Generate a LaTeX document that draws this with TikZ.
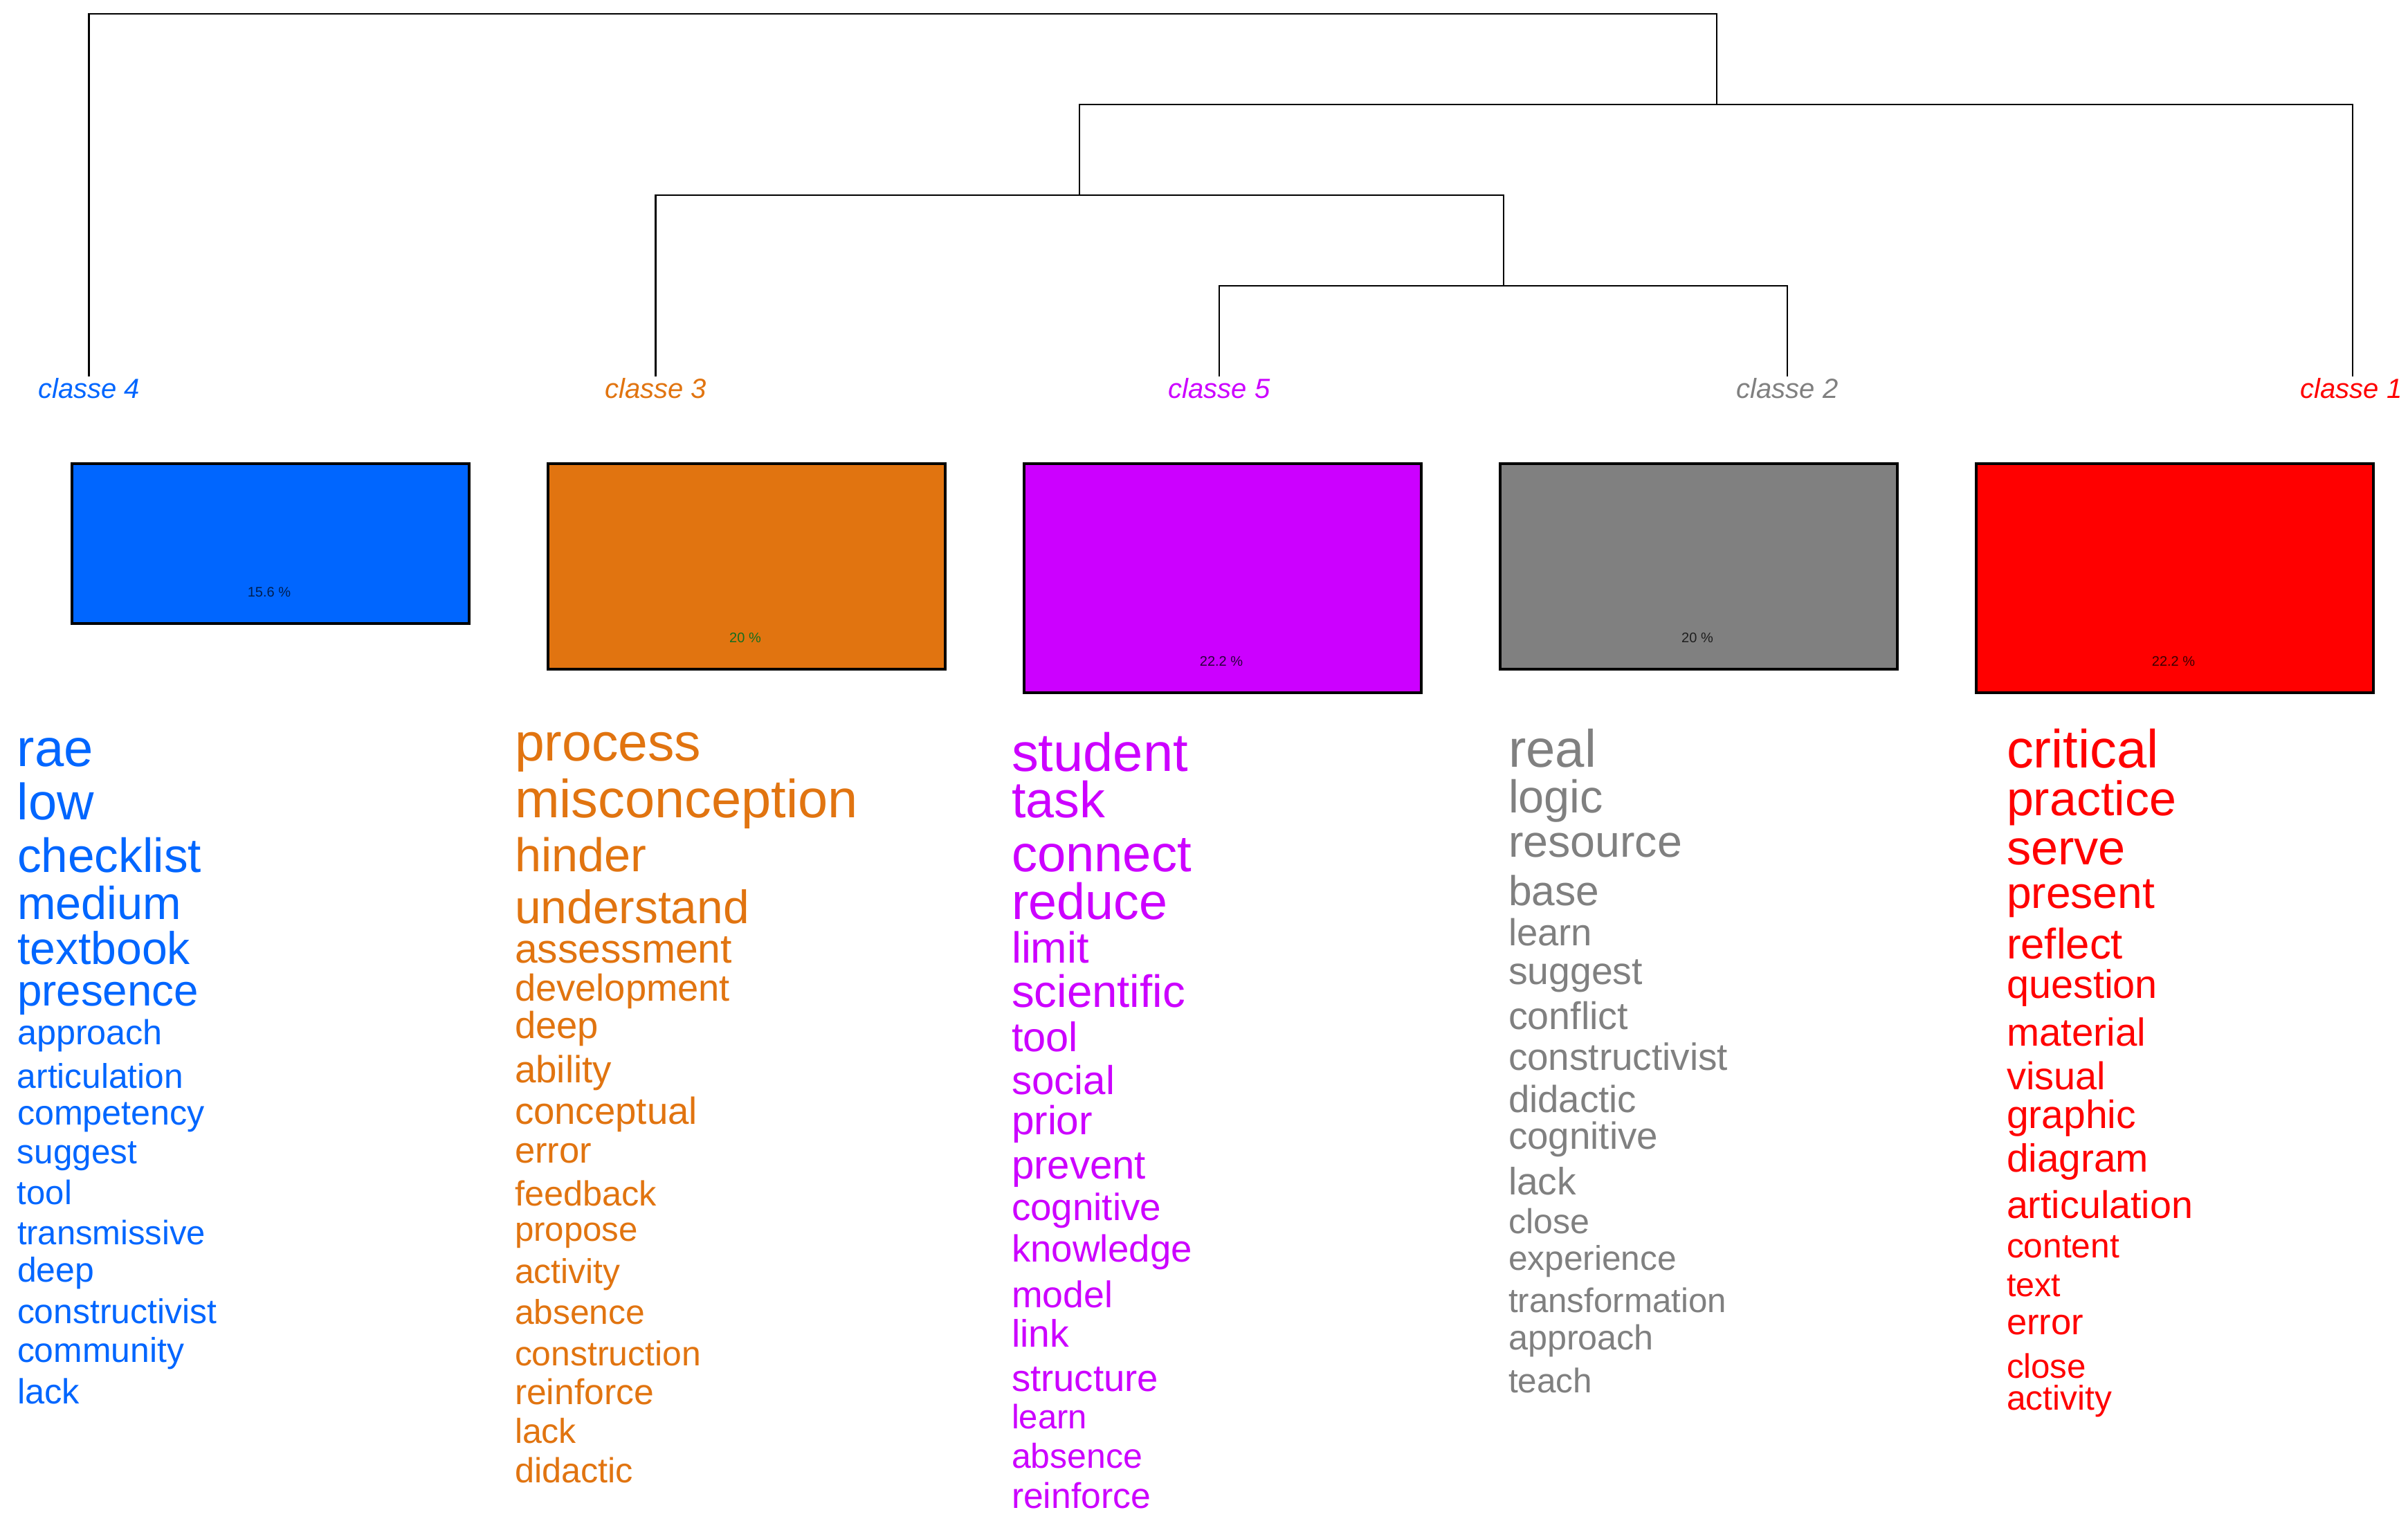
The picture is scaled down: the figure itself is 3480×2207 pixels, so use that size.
\documentclass[tikz,border=0pt]{standalone}
\usepackage{fontspec}
\setmainfont{Liberation Sans}
\usepackage{graphicx}
\newlength{\pxu}\setlength{\pxu}{0.25pt}
\definecolor{cfour}{RGB}{0,102,255}
\definecolor{cthree}{RGB}{225,116,16}
\definecolor{cfive}{RGB}{204,0,255}
\definecolor{ctwo}{RGB}{128,128,128}
\definecolor{cone}{RGB}{255,0,0}
\newcommand{\wordnode}[5]{\node[wordst] (#1) at (#2,#3) {\resizebox{#4\pxu}{!}{#5}};}
\begin{document}
\begin{tikzpicture}[x=0.25pt,y=-0.25pt,
  wordst/.style={anchor=base west,inner sep=0pt,outer sep=0pt},
  dendro/.style={line width=0.7pt,black},
  boxst/.style={draw=black,line width=1pt,anchor=north west,inner sep=0pt,minimum width=574\pxu},
  pctst/.style={font=\fontsize{5}{6}\selectfont,inner sep=0pt},
  clsst/.style={font=\fontsize{10}{12}\selectfont\itshape,inner sep=0pt,anchor=north}]
\fill[white] (0,0) rectangle (3480,2207);
\useasboundingbox (0,0) rectangle (3480,2207);

% dendrogram
\coordinate (l4) at (128.7,544);
\coordinate (l3) at (947.7,544);
\coordinate (l5) at (1762,544);
\coordinate (l2) at (2583,544);
\coordinate (l1) at (3400,544);
\coordinate (nroot) at (1305,20);
\coordinate (nB) at (2481,151);
\coordinate (nC) at (1560,282);
\coordinate (nD) at (2173,413);
\draw[dendro] (l5) |- (nD) -| (l2);
\draw[dendro] (l3) |- (nC) -| (nD);
\draw[dendro] (nC) |- (nB) -| (l1);
\draw[dendro] (l4) |- (nroot) -| (nB);

% class labels
\node[clsst,text=cfour] (cl4) at (128.7,546) {classe\ 4};
\node[clsst,text=cthree] (cl3) at (947.7,546) {classe\ 3};
\node[clsst,text=cfive] (cl5) at (1762,546) {classe\ 5};
\node[clsst,text=ctwo] (cl2) at (2583,546) {classe\ 2};
\node[clsst,text=cone] (cl1) at (3398,546) {classe\ 1};

% boxes
\node[boxst,fill=cfour,minimum height=231\pxu] (box4) at (102,668) {};
\node[boxst,fill=cthree,minimum height=297\pxu] (box3) at (790,668) {};
\node[boxst,fill=cfive,minimum height=331\pxu] (box5) at (1478,668) {};
\node[boxst,fill=ctwo,minimum height=297\pxu] (box2) at (2166,668) {};
\node[boxst,fill=cone,minimum height=331\pxu] (box1) at (2854,668) {};
\node[pctst,text={rgb,255:red,0;green,30;blue,80}] (p4) at (389,856) {15.6 \%};
\node[pctst,text={rgb,255:red,20;green,110;blue,30}] (p3) at (1077,922) {20 \%};
\node[pctst,text={rgb,255:red,40;green,0;blue,60}] (p5) at (1765,956) {22.2 \%};
\node[pctst,text={rgb,255:red,30;green,30;blue,30}] (p2) at (2453,922) {20 \%};
\node[pctst,text={rgb,255:red,60;green,0;blue,0}] (p1) at (3141,956) {22.2 \%};

% column classe 4
\begin{scope}[every node/.append style={text=cfour}]
\wordnode{a1}{25}{1107}{110}{rae}
\wordnode{a2}{25}{1184}{111}{low}
\wordnode{a3}{25}{1260}{266}{checklist}
\wordnode{a4}{25}{1328}{237}{medium}
\wordnode{a5}{25}{1393}{250}{textbook}
\wordnode{a6}{25}{1453}{262}{presence}
\wordnode{a7}{25}{1509}{210}{approach}
\wordnode{a8}{25}{1572}{240}{articulation}
\wordnode{a9}{25}{1625}{271}{competency}
\wordnode{a10}{25}{1681}{173}{suggest}
\wordnode{a11}{25}{1740}{79}{tool}
\wordnode{a12}{25}{1798}{272}{transmissive}
\wordnode{a13}{25}{1852}{111}{deep}
\wordnode{a14}{25}{1912}{288}{constructivist}
\wordnode{a15}{25}{1968}{241}{community}
\wordnode{a16}{25}{2028}{90}{lack}
\end{scope}

% column classe 3
\begin{scope}[every node/.append style={text=cthree}]
\wordnode{b1}{744}{1099}{269}{process}
\wordnode{b2}{744}{1181}{496}{misconception}
\wordnode{b3}{744}{1259}{190}{hinder}
\wordnode{b4}{744}{1334}{339}{understand}
\wordnode{b5}{744}{1391}{314}{assessment}
\wordnode{b6}{744}{1446}{311}{development}
\wordnode{b7}{744}{1500}{121}{deep}
\wordnode{b8}{744}{1564}{140}{ability}
\wordnode{b9}{744}{1624}{264}{conceptual}
\wordnode{b10}{744}{1680}{111}{error}
\wordnode{b11}{744}{1742}{205}{feedback}
\wordnode{b12}{744}{1793}{178}{propose}
\wordnode{b13}{744}{1854}{152}{activity}
\wordnode{b14}{744}{1913}{188}{absence}
\wordnode{b15}{744}{1973}{269}{construction}
\wordnode{b16}{744}{2029}{201}{reinforce}
\wordnode{b17}{744}{2085}{89}{lack}
\wordnode{b18}{744}{2142}{171}{didactic}
\end{scope}

% column classe 5
\begin{scope}[every node/.append style={text=cfive}]
\wordnode{c1}{1462}{1114}{255}{student}
\wordnode{c2}{1462}{1181}{135}{task}
\wordnode{c3}{1462}{1259}{260}{connect}
\wordnode{c4}{1462}{1328}{225}{reduce}
\wordnode{c5}{1462}{1391}{112}{limit}
\wordnode{c6}{1462}{1455}{251}{scientific}
\wordnode{c7}{1462}{1519}{96}{tool}
\wordnode{c8}{1462}{1581}{149}{social}
\wordnode{c9}{1462}{1639}{117}{prior}
\wordnode{c10}{1462}{1703}{194}{prevent}
\wordnode{c11}{1462}{1763}{216}{cognitive}
\wordnode{c12}{1462}{1823}{261}{knowledge}
\wordnode{c13}{1462}{1889}{146}{model}
\wordnode{c14}{1462}{1946}{83}{link}
\wordnode{c15}{1462}{2010}{212}{structure}
\wordnode{c16}{1462}{2064}{109}{learn}
\wordnode{c17}{1462}{2121}{189}{absence}
\wordnode{c18}{1462}{2179}{201}{reinforce}
\end{scope}

% column classe 2
\begin{scope}[every node/.append style={text=ctwo}]
\wordnode{d1}{2180}{1108}{127}{real}
\wordnode{d2}{2180}{1174}{137}{logic}
\wordnode{d3}{2180}{1238}{251}{resource}
\wordnode{d4}{2180}{1308}{131}{base}
\wordnode{d5}{2180}{1366}{121}{learn}
\wordnode{d6}{2180}{1422}{194}{suggest}
\wordnode{d7}{2180}{1487}{173}{conflict}
\wordnode{d8}{2180}{1546}{317}{constructivist}
\wordnode{d9}{2180}{1607}{185}{didactic}
\wordnode{d10}{2180}{1660}{216}{cognitive}
\wordnode{d11}{2180}{1726}{98}{lack}
\wordnode{d12}{2180}{1782}{117}{close}
\wordnode{d13}{2180}{1835}{243}{experience}
\wordnode{d14}{2180}{1896}{315}{transformation}
\wordnode{d15}{2180}{1950}{210}{approach}
\wordnode{d16}{2180}{2012}{121}{teach}
\end{scope}

% column classe 1
\begin{scope}[every node/.append style={text=cone}]
\wordnode{e1}{2900}{1109}{220}{critical}
\wordnode{e2}{2900}{1178}{245}{practice}
\wordnode{e3}{2900}{1249}{172}{serve}
\wordnode{e4}{2900}{1312}{214}{present}
\wordnode{e5}{2900}{1385}{168}{reflect}
\wordnode{e6}{2900}{1442}{218}{question}
\wordnode{e7}{2900}{1511}{201}{material}
\wordnode{e8}{2900}{1574}{143}{visual}
\wordnode{e9}{2900}{1630}{187}{graphic}
\wordnode{e10}{2900}{1693}{205}{diagram}
\wordnode{e11}{2900}{1760}{269}{articulation}
\wordnode{e12}{2900}{1817}{163}{content}
\wordnode{e13}{2900}{1873}{78}{text}
\wordnode{e14}{2900}{1928}{111}{error}
\wordnode{e15}{2900}{1991}{115}{close}
\wordnode{e16}{2900}{2037}{152}{activity}
\end{scope}
\end{tikzpicture}
\end{document}
